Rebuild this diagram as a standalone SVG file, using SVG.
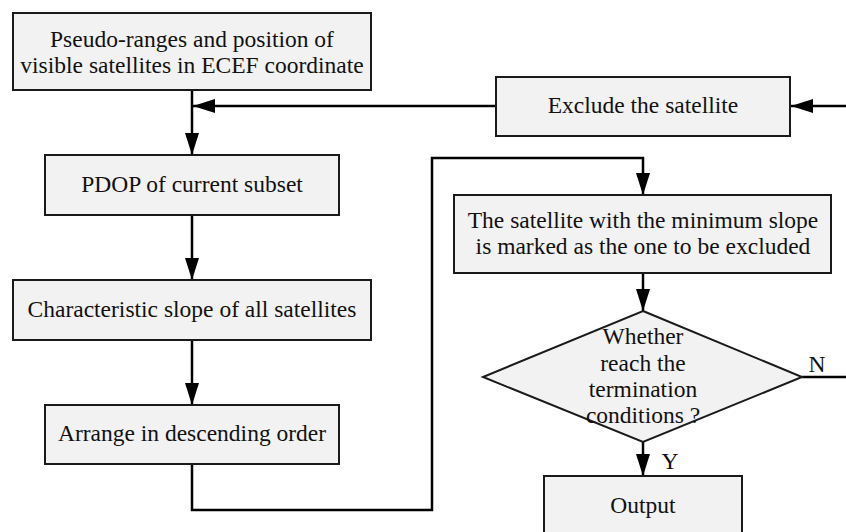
<svg xmlns="http://www.w3.org/2000/svg" width="846" height="532" viewBox="0 0 846 532">
<defs>
<marker id="ah" markerUnits="userSpaceOnUse" markerWidth="22" markerHeight="14" refX="22" refY="7" orient="auto">
<path d="M0,0 L22,7 L0,14 Z" fill="#000"/>
</marker>
<style>
.box{fill:#f2f2f2;stroke:#1a1a1a;stroke-width:2}
.t{font-family:"Liberation Serif","Times New Roman",serif;font-size:23.5px;fill:#111;text-anchor:middle}
.c{fill:none;stroke:#000;stroke-width:2.5}
</style>
</defs>
<rect width="846" height="532" fill="#fff"/>
<g id="connectors">
<path class="c" d="M192,91 V155" marker-end="url(#ah)"/>
<path class="c" d="M496,106 H193" marker-end="url(#ah)"/>
<path class="c" d="M850,106 H791" marker-end="url(#ah)"/>
<path class="c" d="M192,215 V280" marker-end="url(#ah)"/>
<path class="c" d="M192,340 V405" marker-end="url(#ah)"/>
<path class="c" d="M192,464 V510 H432 V158 H643 V195" marker-end="url(#ah)"/>
<path class="c" d="M643,273 V311" marker-end="url(#ah)"/>
<path class="c" d="M802,377 H850"/>
<path class="c" d="M643,442 V476" marker-end="url(#ah)"/>
<text class="t" x="817" y="372">N</text>
<text class="t" x="670" y="469">Y</text>
</g>
<g id="n1">
<rect class="box" x="13" y="13" width="358" height="77"/>
<text class="t" x="192" y="47">Pseudo-ranges and position of</text>
<text class="t" x="192" y="73">visible satellites in ECEF coordinate</text>
</g>
<g id="n2">
<rect class="box" x="45" y="155" width="294" height="60"/>
<text class="t" x="192" y="192">PDOP of current subset</text>
</g>
<g id="n3">
<rect class="box" x="13" y="280" width="358" height="60"/>
<text class="t" x="192" y="317">Characteristic slope of all satellites</text>
</g>
<g id="n4">
<rect class="box" x="45" y="405" width="294" height="59"/>
<text class="t" x="192" y="441">Arrange in descending order</text>
</g>
<g id="n5">
<rect class="box" x="496" y="77" width="294" height="59"/>
<text class="t" x="643" y="113">Exclude the satellite</text>
</g>
<g id="n6">
<rect class="box" x="454" y="195" width="377" height="78"/>
<text class="t" x="643" y="228">The satellite with the minimum slope</text>
<text class="t" x="643" y="254">is marked as the one to be excluded</text>
</g>
<g id="n7">
<path class="box" d="M643,311 L802,377 L643,442 L483,377 Z"/>
<text class="t" x="643" y="344">Whether</text>
<text class="t" x="643" y="371">reach the</text>
<text class="t" x="643" y="397">termination</text>
<text class="t" x="643" y="423">conditions ?</text>
</g>
<g id="n8">
<rect class="box" x="544" y="476" width="198" height="60"/>
<text class="t" x="643" y="513">Output</text>
</g>
</svg>
